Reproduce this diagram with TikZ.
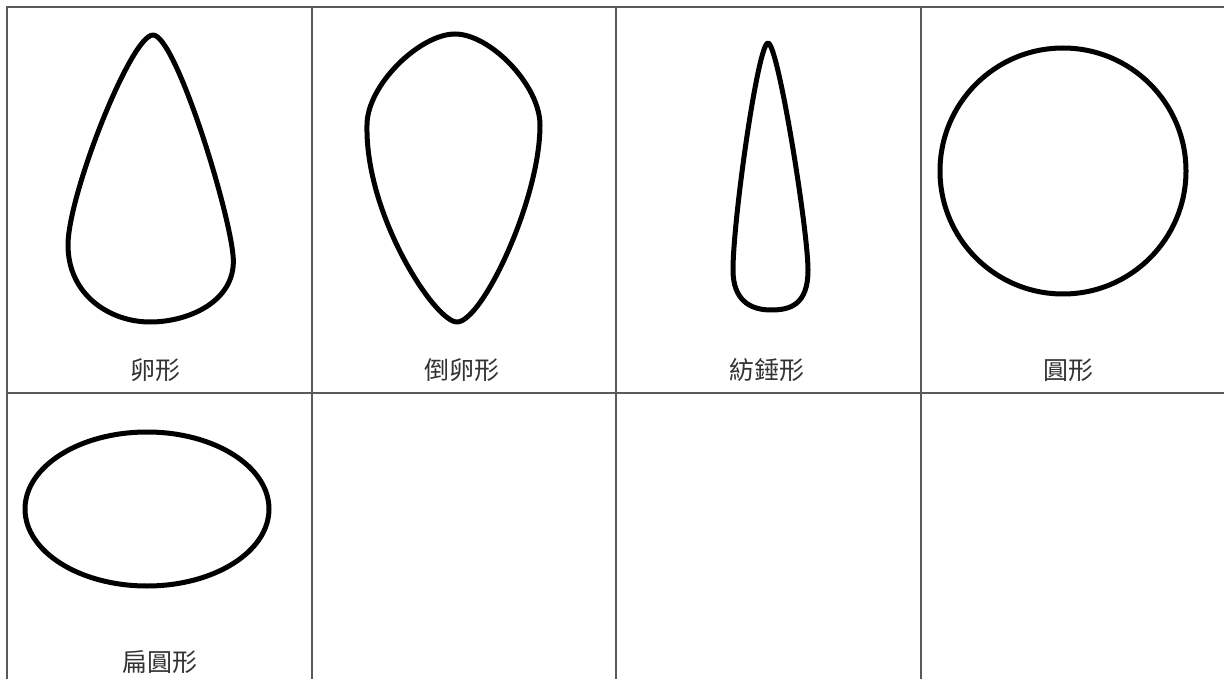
\documentclass[tikz,border=0pt]{standalone}
\usepackage{fontspec}
\newfontfamily\cjk{Noto Sans CJK TC}
\begin{document}
\begin{tikzpicture}[x=1pt,y=-1pt,
  gridline/.style={draw=black!65,line width=1.6pt},
  shapeline/.style={draw=black,line width=5pt,line join=round},
  lbl/.style={font=\cjk\fontsize{25}{25}\selectfont,text=black!80,inner sep=0pt}]
\useasboundingbox (0,0) rectangle (1224,679);
\fill[white] (0,0) rectangle (1224,679);
% grid
\draw[gridline] (7,679) -- (7,7) -- (1224,7);
\draw[gridline] (7,393) -- (1224,393);
\draw[gridline] (312,7) -- (312,679);
\draw[gridline] (616,7) -- (616,679);
\draw[gridline] (921,7) -- (921,679);
% egg
\draw[shapeline] (153,35) .. controls (175,35) and (228,205) .. (233,255)
  .. controls (238,300) and (190,322) .. (150,322)
  .. controls (110,322) and (68,295) .. (68,245)
  .. controls (68,195) and (131,35) .. (153,35) -- cycle;
% obovate
\draw[shapeline] (455,34) .. controls (490,34) and (540,85) .. (540,125)
  .. controls (540,200) and (482,322) .. (457,322)
  .. controls (435,322) and (365,215) .. (367,125)
  .. controls (367,85) and (420,34) .. (455,34) -- cycle;
% fusiform
\draw[shapeline] (768,43) .. controls (778,43) and (808,230) .. (808,270)
  .. controls (808,305) and (790,310) .. (771,310)
  .. controls (750,310) and (733,300) .. (733,270)
  .. controls (733,220) and (758,43) .. (768,43) -- cycle;
% circle
\draw[shapeline] (1063,171) circle[radius=123];
% oblate
\draw[shapeline] (147,509) ellipse[x radius=122,y radius=77];
% labels
\node[lbl] (l1) at (155,370) {卵形};
\node[lbl] (l2) at (462,370) {倒卵形};
\node[lbl] (l3) at (767,370) {紡錘形};
\node[lbl] (l4) at (1068,370) {圓形};
\node[lbl] (l5) at (160,662) {扁圓形};
\end{tikzpicture}
\end{document}
